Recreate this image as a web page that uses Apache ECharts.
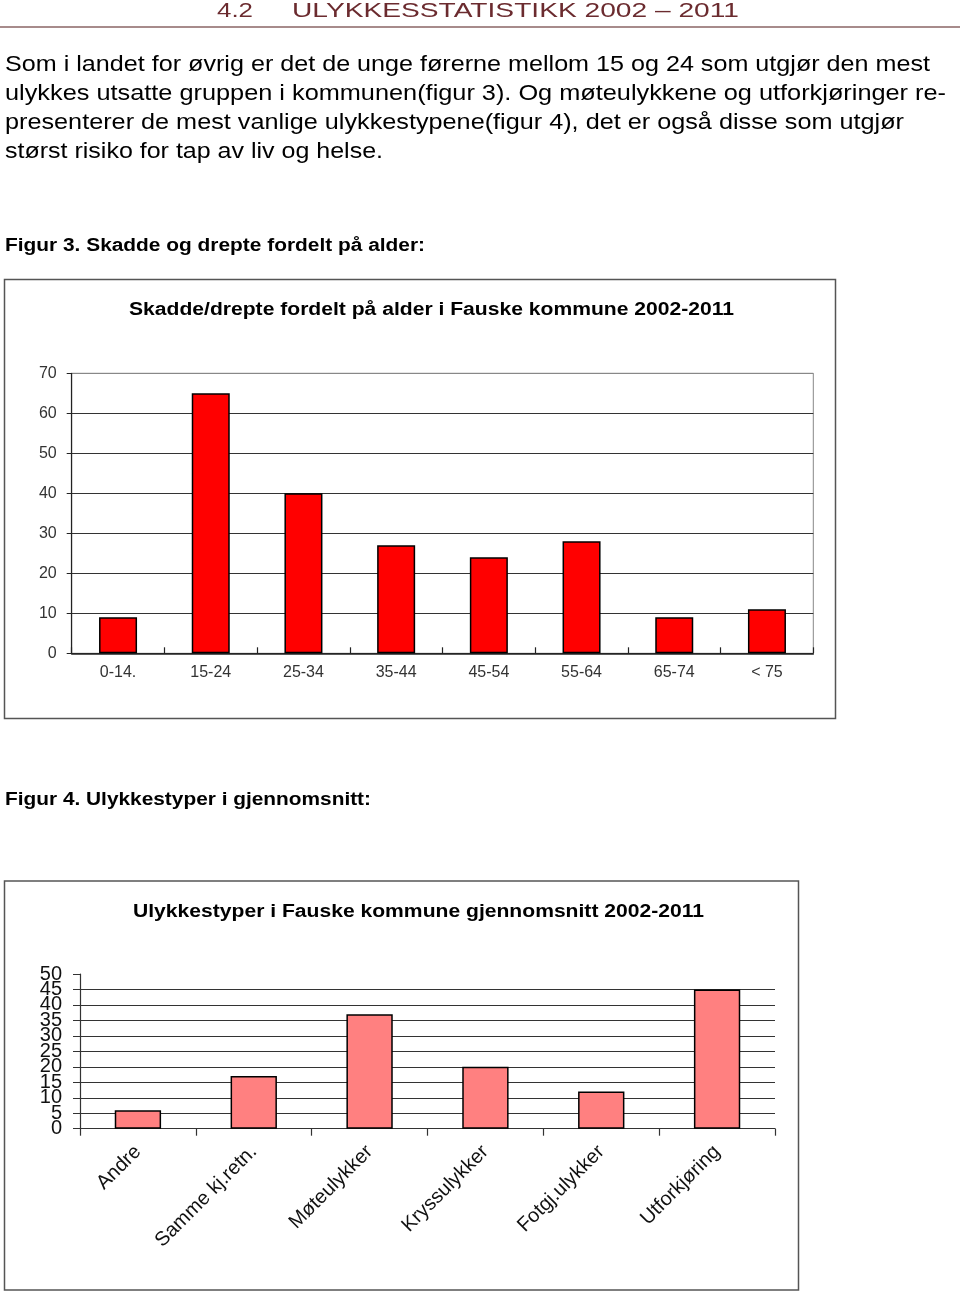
<!DOCTYPE html>
<html>
<head>
<meta charset="utf-8">
<script src="https://cdn.jsdelivr.net/npm/echarts@6/dist/echarts.min.js"></script>
<style>
html,body{margin:0;padding:0;background:#fff;}
#c{width:960px;height:1294px;}
</style>
</head>
<body>
<div id="c"></div>
<script>
// ---- data ----
const ageCategories = ['0-14.', '15-24', '25-34', '35-44', '45-54', '55-64', '65-74', '< 75'];
const ageValues = [9, 65, 40, 27, 24, 28, 9, 11];
const ageTicks = [0, 70, 10]; // min, max, interval

const typeCategories = ['Andre', 'Samme kj.retn.', 'Møteulykker', 'Kryssulykker', 'Fotgj.ulykker', 'Utforkjøring'];
const typeValues = [6, 17, 37, 20, 12, 45];
const typeTicks = [0, 50, 5];
const typeTickLabels = ['0', '5', '10', '15', '20', '25', '30', '35', '40', '45', '50'];

const headerNum = '4.2';
const headerText = 'ULYKKESSTATISTIKK 2002 – 2011';
const paragraphLines = [
  'Som i landet for øvrig er det de unge førerne mellom 15 og 24 som utgjør den mest',
  'ulykkes utsatte gruppen i kommunen(figur 3). Og møteulykkene og utforkjøringer re-',
  'presenterer de mest vanlige ulykkestypene(figur 4), det er også disse som utgjør',
  'størst risiko for tap av liv og helse.'
];
const caption3 = 'Figur 3. Skadde og drepte fordelt på alder:';
const caption4 = 'Figur 4. Ulykkestyper i gjennomsnitt:';
const title1 = 'Skadde/drepte fordelt på alder i Fauske kommune 2002-2011';
const title2 = 'Ulykkestyper i Fauske kommune gjennomsnitt 2002-2011';

// ---- layout helpers ----
const FF = '"Liberation Sans", Arial, sans-serif';
const mctx = document.createElement('canvas').getContext('2d');
function fitScale(text, font, w) { mctx.font = font; return w / mctx.measureText(text).width; }
function txt(text, x, y, size, width, opts) {
  opts = opts || {};
  const weight = opts.bold ? 'bold ' : '';
  const font = weight + size + 'px ' + FF;
  const s = width ? fitScale(text, font, width) : 1;
  const align = opts.align || 'left';
  return {
    type: 'text', x: x, y: y, scaleX: s, z: 10,
    style: {
      text: text, font: font, fill: opts.color || '#000',
      align: align, textAlign: align,
      verticalAlign: 'middle', textVerticalAlign: 'middle'
    }
  };
}

const paraW = [925, 941, 899, 378];
const paraY = [65, 94, 123, 152];
const graphics = [
  txt(headerNum, 217, 11, 21, 36, {color: '#6b2b2f'}),
  txt(headerText, 292, 11, 21, 447, {color: '#6b2b2f'}),
  {type: 'line', shape: {x1: 0, y1: 27, x2: 960, y2: 27}, style: {stroke: '#8a6464', lineWidth: 1.5}},
  txt(caption3, 5, 246, 18, 420, {bold: true}),
  txt(caption4, 5, 800, 18, 366, {bold: true}),
  {type: 'rect', shape: {x: 4.5, y: 279.5, width: 831, height: 439}, style: {fill: 'none', stroke: '#555', lineWidth: 1.5}},
  {type: 'rect', shape: {x: 4.5, y: 881, width: 794, height: 409}, style: {fill: 'none', stroke: '#555', lineWidth: 1.5}},
  txt(title1, 431.5, 310, 18, 605, {bold: true, align: 'center'}),
  txt(title2, 418.5, 912, 18, 571, {bold: true, align: 'center'})
];
paragraphLines.forEach((l, i) => graphics.push(txt(l, 5, paraY[i], 22, paraW[i])));

const topColors1 = [];
for (let v = ageTicks[0]; v <= ageTicks[1]; v += ageTicks[2]) topColors1.push(v === ageTicks[1] ? '#888' : '#333');
const splitColors2 = [];
for (let v = typeTicks[0]; v <= typeTicks[1]; v += typeTicks[2]) splitColors2.push(v === typeTicks[1] ? 'rgba(0,0,0,0)' : '#333');

const chart = echarts.init(document.getElementById('c'));
chart.setOption({
  animation: false,
  backgroundColor: '#fff',
  textStyle: {fontFamily: FF},
  graphic: graphics,
  grid: [
    {left: 71.7, top: 373.3, width: 741.6, height: 280, show: true, borderColor: '#888', borderWidth: 1, backgroundColor: 'transparent'},
    {left: 80, top: 974, width: 695, height: 154.7}
  ],
  xAxis: [
    {
      type: 'category', gridIndex: 0, data: ageCategories, boundaryGap: true,
      axisLine: {lineStyle: {color: '#222', width: 1.5}},
      axisTick: {show: true, inside: true, length: 6, lineStyle: {color: '#222', width: 1.2}},
      axisLabel: {fontSize: 16, color: '#333', margin: 11, fontFamily: FF, interval: 0}
    },
    {
      type: 'category', gridIndex: 1, data: typeCategories, boundaryGap: true,
      axisLine: {lineStyle: {color: '#333', width: 1.2}},
      axisTick: {show: true, length: 7, lineStyle: {color: '#333', width: 1.2}},
      axisLabel: {fontSize: 20, color: '#111', margin: 20, rotate: 45, interval: 0, fontFamily: FF, hideOverlap: false}
    }
  ],
  yAxis: [
    {
      type: 'value', gridIndex: 0, min: ageTicks[0], max: ageTicks[1], interval: ageTicks[2],
      axisLine: {show: true, lineStyle: {color: '#222', width: 1.2}},
      axisTick: {show: true, length: 5, lineStyle: {color: '#222'}},
      axisLabel: {fontSize: 16, color: '#333', margin: 15, fontFamily: FF, showMinLabel: true, showMaxLabel: true},
      splitLine: {show: true, lineStyle: {color: topColors1, width: 1.2}}
    },
    {
      type: 'value', gridIndex: 1, min: typeTicks[0], max: typeTicks[1], interval: typeTicks[2],
      axisLine: {show: true, lineStyle: {color: '#333', width: 1.2}},
      axisTick: {show: true, length: 7, lineStyle: {color: '#333'}},
      axisLabel: {show: false},
      splitLine: {show: true, lineStyle: {color: splitColors2, width: 1.2}}
    }
  ],
  series: [
    {
      type: 'bar', xAxisIndex: 0, yAxisIndex: 0, data: ageValues, barWidth: '41%',
      itemStyle: {color: '#ff0000', borderColor: '#000', borderWidth: 1.5}
    },
    {
      type: 'bar', xAxisIndex: 1, yAxisIndex: 1, data: typeValues, barWidth: '40%',
      itemStyle: {color: '#ff8080', borderColor: '#000', borderWidth: 1.5}
    }
  ]
});

// Overlapping y labels of chart 2 (the original lets them collide): placed via the axis scale
const labelGraphics = graphics.slice();
typeTickLabels.forEach((lab) => {
  const v = Number(lab);
  const p = chart.convertToPixel({xAxisIndex: 1, yAxisIndex: 1}, [0, v]);
  const axisX = chart.convertToPixel({gridIndex: 1}, [0, v]);
  labelGraphics.push({
    type: 'text', x: 62, y: p[1], z: 10,
    style: {text: lab, font: '20px ' + FF, fill: '#111', align: 'right', textAlign: 'right', verticalAlign: 'middle', textVerticalAlign: 'middle'}
  });
});
chart.setOption({graphic: labelGraphics});
</script>
</body>
</html>
